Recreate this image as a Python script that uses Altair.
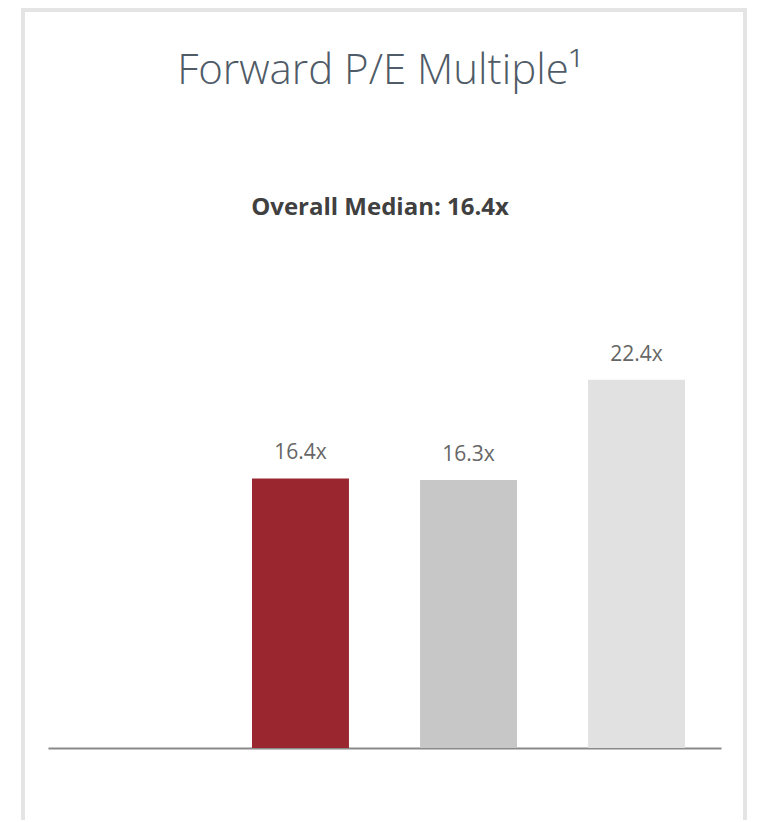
import altair as alt
import pandas as pd

title_text = "Forward P/E Multiple\u00b9"
subtitle_text = "Overall Median: 16.4x"
categories = ["Group 0", "Group 1", "Group 2", "Group 3"]
values = [None, 16.4, 16.3, 22.4]
labels = ["", "16.4x", "16.3x", "22.4x"]
bar_colors = ["#ffffff", "#9a2730", "#c7c7c7", "#e1e1e1"]

df = pd.DataFrame({"category": categories, "value": values, "label": labels})

x_enc = alt.X(
    "category:N",
    scale=alt.Scale(domain=categories, paddingInner=0.423, paddingOuter=0.214),
    axis=alt.Axis(labels=False, ticks=False, title=None, grid=False,
                  domainColor="#898989", domainWidth=2),
)
y_scale = alt.Scale(domain=[0, 25], nice=False, zero=True)

bars = alt.Chart(df).mark_bar().encode(
    x=x_enc,
    y=alt.Y("value:Q", scale=y_scale, axis=None),
    color=alt.Color("category:N", scale=alt.Scale(domain=categories, range=bar_colors), legend=None),
)

text = alt.Chart(df).mark_text(
    baseline="alphabetic", dy=-19, fontSize=21, font="Open Sans", color="#666666"
).encode(
    x=x_enc,
    y=alt.Y("value:Q", scale=y_scale, axis=None),
    text="label:N",
)

frame = alt.Chart(alt.Data(values=[{"f": 1}])).mark_rect(
    fill="transparent", stroke="#e4e4e4", strokeWidth=4
).encode(
    x=alt.value(-25), x2=alt.value(697), y=alt.value(-327), y2=alt.value(520)
)

title = alt.Chart(alt.Data(values=[{"t": title_text}])).mark_text(
    font="Open Sans", fontSize=42, fontWeight=300, color="#4f5b67",
    align="center", baseline="alphabetic"
).encode(x=alt.value(332), y=alt.value(-253), text="t:N")

subtitle = alt.Chart(alt.Data(values=[{"t": subtitle_text}])).mark_text(
    font="Open Sans", fontSize=24, fontWeight="bold", color="#404040",
    align="center", baseline="alphabetic"
).encode(x=alt.value(332), y=alt.value(-122), text="t:N")

chart = alt.layer(frame, title, subtitle, bars, text).properties(
    width=673,
    height=411,
    background="white",
    autosize=alt.AutoSizeParams(type="none"),
    padding={"left": 40, "top": 329, "right": 28, "bottom": 72},
).configure_view(stroke="transparent", strokeWidth=0)

chart.save("out.html", embed_options={"renderer": "svg", "actions": False})
